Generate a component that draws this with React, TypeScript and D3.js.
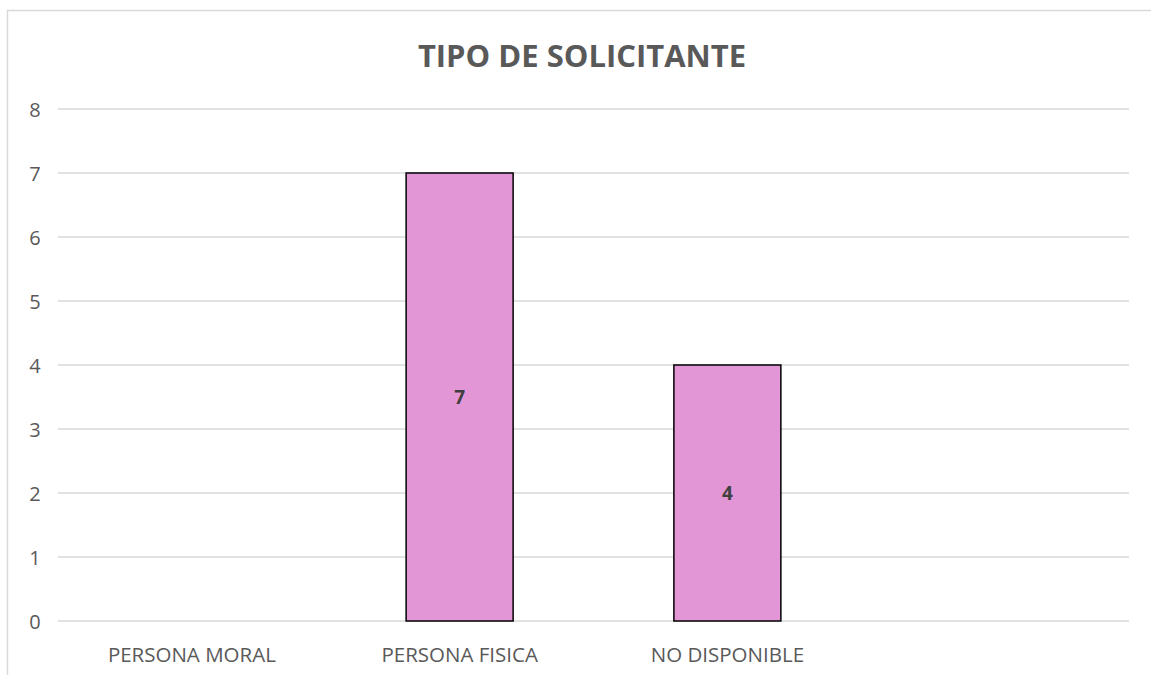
import React from "react";
import * as d3 from "d3";

const categories = ["PERSONA MORAL", "PERSONA FISICA", "NO DISPONIBLE", ""];
const values: (number | null)[] = [null, 7, 4, null];
const yTicks = [0, 1, 2, 3, 4, 5, 6, 7, 8];
const title = "TIPO DE SOLICITANTE";

export default function App() {
  const W = 1151, H = 675;
  const left = 58, right = 1129, top = 109, bottom = 621;
  const band = d3.scaleBand<number>().domain(d3.range(categories.length)).range([left, right]);
  const y = d3.scaleLinear().domain([0, 8]).range([bottom, top]);
  const font = "'Open Sans', 'Liberation Sans', sans-serif";
  const textCol = "#595959";
  return (
    <svg width={W} height={H} style={{ position: "absolute", left: 0, top: 0, background: "#fff" }} fontFamily={font}>
      <rect x={7.5} y={10.5} width={W + 20} height={H + 20} fill="#fff" stroke="#d9d9d9" strokeWidth={1.5} />
      <text x={582} y={55} textAnchor="middle" dominantBaseline="central" fontSize={31} fontWeight="bold" fill={textCol}>{title}</text>
      {yTicks.map((t) => (
        <g key={t}>
          <line x1={left} x2={right} y1={y(t)} y2={y(t)} stroke="#d9d9d9" strokeWidth={1.3} />
          <text x={35} y={y(t)} textAnchor="middle" dominantBaseline="central" fontSize={20} fill={textCol}>{t}</text>
        </g>
      ))}
      {values.map((v, i) => v == null ? null : (
        <g key={i}>
          <rect x={band(i)! + band.bandwidth() / 2 - 53.5} y={y(v)} width={107} height={y(0) - y(v)} fill="#E396D6" stroke="#000" strokeWidth={1.5} />
          <text x={band(i)! + band.bandwidth() / 2} y={(y(v) + y(0)) / 2} textAnchor="middle" dominantBaseline="central" fontSize={19} fontWeight="bold" fill="#404040">{v}</text>
        </g>
      ))}
      {categories.map((c, i) => (
        <text key={i} x={band(i)! + band.bandwidth() / 2} y={654} textAnchor="middle" dominantBaseline="central" fontSize={20.5} fill={textCol}>{c}</text>
      ))}
    </svg>
  );
}
